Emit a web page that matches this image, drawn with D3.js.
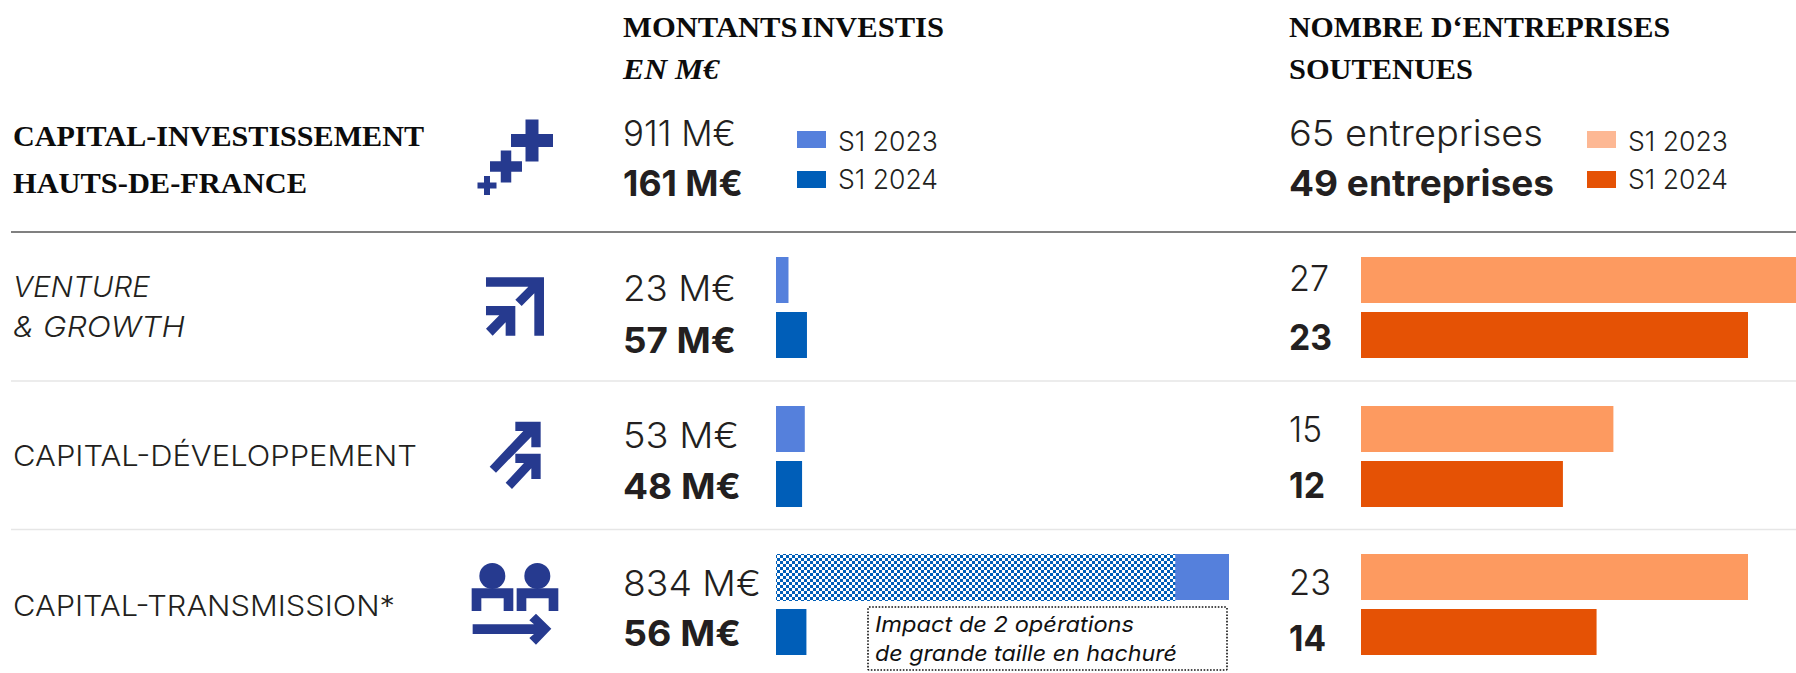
<!DOCTYPE html>
<meta charset="utf-8">
<style type="text/css">
html, body { margin: 0; background: #fff; }
svg { display: block; }
.serif { font-family: "Liberation Serif", serif; font-weight: 700; fill: #0c0c0c; }
.sans { font-family: Inter, sans-serif; fill: #231f20; }
</style>
<body>
<svg id="chart" width="1796" height="673"></svg>
<script src="https://d3js.org/d3.v7.min.js"></script>
<script>
var width = 1796, height = 673;

var categories = ['Venture & Growth', 'Capital-Développement', 'Capital-Transmission'];
var amounts2023 = [23, 53, 834];
var amounts2024 = [57, 48, 56];
var hatchedAmount = 735; // part of the 834 M€ that comes from the 2 big deals
var companies2023 = [27, 15, 23];
var companies2024 = [23, 12, 14];
var legendLabels = ['S1 2023', 'S1 2024'];

var svg = d3.select('#chart');

var cell = 3;
var defs = svg.append('defs');
var pattern = defs.append('pattern')
    .attr('id', 'hatch')
    .attr('patternUnits', 'userSpaceOnUse')
    .attr('width', cell * 2)
    .attr('height', cell * 2);
pattern.append('rect').attr('width', cell * 2).attr('height', cell * 2).attr('fill', '#005eb8');
pattern.append('rect').attr('width', cell).attr('height', cell).attr('fill', '#fff');
pattern.append('rect').attr('x', cell).attr('y', cell).attr('width', cell).attr('height', cell).attr('fill', '#fff');

// the rows are not quite evenly spaced in the original
var rowY = d3.scaleOrdinal().domain(categories).range([257, 406, 554]);
var amountX = d3.scaleLinear().domain([0, 834]).range([776, 1229]);
var companyX = d3.scaleLinear().domain([0, 23]).range([1361, 1748]);

var barHeight = 46, secondBar = 55;

// separators
[[232, '#808080', 2], [381, '#e6e6e6', 1.5], [529.5, '#e6e6e6', 1.5]].forEach(function(s) {
  svg.append('line')
    .attr('x1', 11).attr('x2', width)
    .attr('y1', s[0]).attr('y2', s[0])
    .attr('stroke', s[1]).attr('stroke-width', s[2]);
});

function drawBars(values, xScale, offset, color) {
  svg.append('g').selectAll('rect')
    .data(values)
    .enter()
    .append('rect')
      .attr('x', xScale(0))
      .attr('y', function(d, i) { return rowY(categories[i]) + offset; })
      .attr('width', function(d) { return xScale(d) - xScale(0); })
      .attr('height', barHeight)
      .attr('fill', color);
}

drawBars(amounts2023, amountX, 0, '#5580dc');
drawBars(amounts2024, amountX, secondBar, '#005eb8');
drawBars(companies2023, companyX, 0, '#fd9a60');
drawBars(companies2024, companyX, secondBar, '#e55205');

svg.append('rect')
  .attr('x', amountX(0))
  .attr('y', rowY(categories[2]))
  .attr('width', amountX(hatchedAmount) - amountX(0))
  .attr('height', barHeight + 1)
  .attr('fill', 'url(#hatch)');

// legends
function drawLegend(x, colors) {
  legendLabels.forEach(function(label, i) {
    svg.append('rect')
      .attr('x', x).attr('y', 131 + i * 40)
      .attr('width', 29).attr('height', 17)
      .attr('fill', colors[i]);
    svg.append('text')
      .attr('class', 'sans')
      .attr('x', x + 41).attr('y', 151 + i * 38)
      .attr('font-size', 27)
      .attr('textLength', 100).attr('lengthAdjust', 'spacingAndGlyphs')
      .style('font-weight', 350)
      .text(label);
  });
}
drawLegend(797, ['#5580dc', '#005eb8']);
drawLegend(1587, ['#fdb894', '#e55205']);

// [text, class, x, baseline, size, width, weight, italic]
var labels = [
  ['MONTANTS INVESTIS', 'serif', 623, 37, 30, 321],
  ['EN M€', 'serif', 623, 79, 30, 96, 700, true],
  ['NOMBRE D‘ENTREPRISES', 'serif', 1289, 37, 30, 381],
  ['SOUTENUES', 'serif', 1289, 79, 30, 184],
  ['CAPITAL-INVESTISSEMENT', 'serif', 13, 146, 30, 411],
  ['HAUTS-DE-FRANCE', 'serif', 13, 193, 30, 294],
  ['VENTURE', 'sans', 13, 297, 29, 137, 350, true],
  ['& GROWTH', 'sans', 13, 337, 29, 172, 350, true],
  ['CAPITAL-DÉVELOPPEMENT', 'sans', 13, 466, 29, 404, 350],
  ['CAPITAL-TRANSMISSION*', 'sans', 13, 616, 29, 382, 350],
  ['911 M€', 'sans', 623, 146, 36, 113, 350],
  ['161 M€', 'sans', 623, 196, 36, 120, 650],
  ['23 M€', 'sans', 623, 301, 36, 113, 350],
  ['57 M€', 'sans', 623, 353, 36, 113, 650],
  ['53 M€', 'sans', 623, 448, 36, 116, 350],
  ['48 M€', 'sans', 623, 499, 36, 118, 650],
  ['834 M€', 'sans', 623, 596, 36, 138, 350],
  ['56 M€', 'sans', 623, 646, 36, 118, 650],
  ['65 entreprises', 'sans', 1289, 146, 36, 254, 350],
  ['49 entreprises', 'sans', 1289, 196, 36, 265, 650],
  ['27', 'sans', 1289, 291, 36, 40, 350],
  ['23', 'sans', 1289, 350, 36, 43, 650],
  ['15', 'sans', 1289, 442, 36, 33, 350],
  ['12', 'sans', 1289, 498, 36, 36, 650],
  ['23', 'sans', 1289, 595, 36, 42, 350],
  ['14', 'sans', 1289, 651, 36, 37, 650]
];

svg.append('g').selectAll('text')
  .data(labels)
  .enter()
  .append('text')
    .attr('class', function(d) { return d[1]; })
    .attr('x', function(d) { return d[2]; })
    .attr('y', function(d) { return d[3]; })
    .attr('font-size', function(d) { return d[4]; })
    .attr('textLength', function(d) { return d[5]; })
    .attr('lengthAdjust', 'spacingAndGlyphs')
    .style('font-weight', function(d) { return d[6] || null; })
    .style('font-style', function(d) { return d[7] ? 'italic' : null; })
    .style('word-spacing', function(d) { return d[0] === 'MONTANTS INVESTIS' ? '-4px' : null; })
    .text(function(d) { return d[0]; });

// note box under the big bar
svg.append('rect')
  .attr('x', 868).attr('y', 607)
  .attr('width', 359).attr('height', 63)
  .attr('rx', 1)
  .attr('fill', '#fff')
  .attr('stroke', '#111')
  .attr('stroke-width', 1.6)
  .attr('stroke-dasharray', '1.6 1.6');

[['Impact de 2 opérations', 632, 259], ['de grande taille en hachuré', 661, 302]].forEach(function(n) {
  svg.append('text')
    .attr('class', 'sans')
    .attr('x', 875).attr('y', n[1])
    .attr('font-size', 22)
    .attr('textLength', n[2]).attr('lengthAdjust', 'spacingAndGlyphs')
    .style('font-style', 'italic')
    .style('fill', '#111')
    .text(n[0]);
});

// icons
var iconColor = '#263a8f';

function cross(cx, cy, size, thick) {
  var a = size / 2, b = thick / 2;
  return 'M' + (cx - b) + ',' + (cy - a) + 'H' + (cx + b) + 'V' + (cy - b) + 'H' + (cx + a) +
    'V' + (cy + b) + 'H' + (cx + b) + 'V' + (cy + a) + 'H' + (cx - b) + 'V' + (cy + b) +
    'H' + (cx - a) + 'V' + (cy - b) + 'H' + (cx - b) + 'Z';
}

svg.append('path')
  .attr('fill', iconColor)
  .attr('d', cross(532, 140.5, 42, 13) + cross(506, 166.5, 32, 10.5) + cross(487, 185.5, 19, 6));

// these three are traced in the scale of a 3x crop, origin at 440,240
var tracedIcons = svg.append('g')
  .attr('transform', 'translate(440,240) scale(0.3333)')
  .attr('fill', iconColor);

tracedIcons.append('path').attr('d',
  'M138,112H312V287H283V160L245,198L226,179L265,140H138Z' +
  'M138,198H226V287H197V247L158,287L138,266L178,226H138Z');

tracedIcons.append('path').attr('d',
  'M226,545H302V622H274V590L168,698L149,680L250,573H226Z' +
  'M226,641H302V717H274V685L216,747L197,728L252,669H226Z');

tracedIcons.selectAll('circle')
  .data([157, 292])
  .enter()
  .append('circle')
    .attr('cx', function(d) { return d; })
    .attr('cy', 1008)
    .attr('r', 39);

tracedIcons.selectAll('path.body')
  .data([95, 230])
  .enter()
  .append('path')
    .attr('class', 'body')
    .attr('transform', function(d) { return 'translate(' + d + ',1045)'; })
    .attr('d', 'M0,0H125V68H96V30H29V68H0Z');

tracedIcons.append('path').attr('d',
  'M98,1153H282L268,1141L288,1121L334,1166L288,1214L268,1194L282,1182H98Z');
</script>
</body>
